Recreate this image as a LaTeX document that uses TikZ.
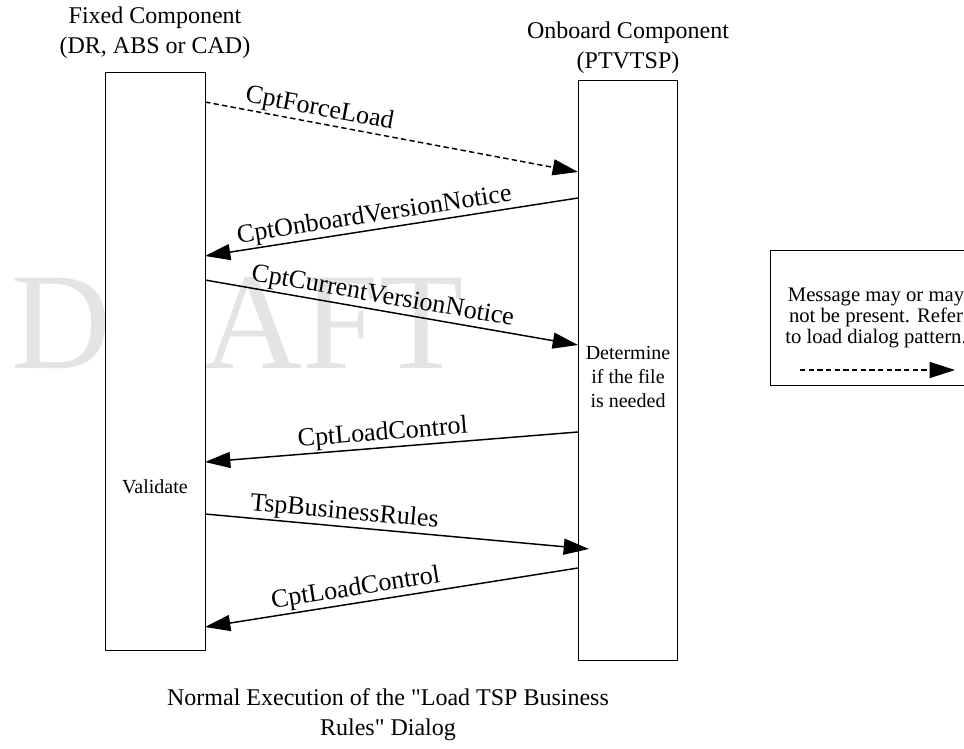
\documentclass[tikz,border=0pt]{standalone}
\usepackage{fontspec}
\setmainfont{Liberation Serif}[Ligatures=TeXOff]
\usetikzlibrary{arrows.meta,calc}
\definecolor{wmgray}{RGB}{228,228,228}
\begin{document}
\begin{tikzpicture}[x=0.75pt,y=-0.75pt,
  lifeline/.style={draw, line width=1.1pt, fill=white, anchor=north west, inner sep=0pt},
  msg/.style={line width=1.1pt, -{Triangle[length=19pt,width=12pt]}},
  lbl/.style={sloped, above, inner sep=1pt, font=\fontsize{19.5pt}{22pt}\selectfont},
  hdr/.style={align=center, inner sep=0pt, font=\fontsize{18pt}{22.5pt}\selectfont},
  boxtext/.style={align=center, inner sep=0pt, font=\fontsize{15pt}{18pt}\selectfont},
  legtext/.style={align=center, inner sep=0pt, font=\fontsize{15.5pt}{16pt}\selectfont}]
\path[use as bounding box] (0,0) rectangle (964,749);
\clip (0,0) rectangle (964,749);
% watermark
\node[anchor=base west, inner sep=0pt, text=wmgray, font=\fontsize{103.5pt}{110pt}\selectfont] (wm) at (11,368) {DRAFT};
% lifelines
\node[lifeline, minimum width=75pt, minimum height=433.5pt] (L) at (105,72) {};
\node[lifeline, minimum width=74.25pt, minimum height=435pt] (R) at (578,80) {};
% headers
\node[hdr] (hL) at (155,33) {Fixed Component\\(DR, ABS or CAD)};
\node[hdr] (hR) at (628,48) {Onboard Component\\(PTVTSP)};
% texts in boxes
\node[boxtext] (val) at (155,487) {Validate};
\node[boxtext] (det) at (628,377) {Determine\\if the file\\is needed};
% message end points
\coordinate (m1s) at (205,102); \coordinate (m1e) at (578,172);
\coordinate (m2s) at (578,198); \coordinate (m2e) at (205,256);
\coordinate (m3s) at (205,280); \coordinate (m3e) at (578,345);
\coordinate (m4s) at (578,432); \coordinate (m4e) at (205,462);
\coordinate (m5s) at (205,514); \coordinate (m5e) at (589,549);
\coordinate (m6s) at (578,568); \coordinate (m6e) at (205,627);
\draw[msg, dash pattern=on 4pt off 2.5pt] (m1s) -- node[lbl, pos=0.30] {CptForceLoad} (m1e);
\draw[msg] (m2s) -- node[lbl, pos=0.54] {CptOnboardVersionNotice} (m2e);
\draw[msg] (m3s) -- node[lbl, pos=0.47] {CptCurrentVersionNotice} (m3e);
\draw[msg] (m4s) -- node[lbl, pos=0.52] {CptLoadControl} (m4e);
\draw[msg] (m5s) -- node[lbl, pos=0.36] {TspBusinessRules} (m5e);
\draw[msg] (m6s) -- node[lbl, pos=0.59] {CptLoadControl} (m6e);
% legend
\node[draw, line width=1.1pt, anchor=north west, minimum width=172pt, minimum height=101.25pt, inner sep=0pt] (leg) at (770,250) {};
\node[legtext] (legt) at (876,318) {Message may or may\\not be present. Refer\\to load dialog pattern.};
\coordinate (la) at (800,370); \coordinate (lb) at (955,370);
\draw[msg, dash pattern=on 4pt off 2.5pt] (la) -- (lb);
% caption
\node[hdr] (cap) at (388,715) {Normal Execution of the "Load TSP Business\\Rules" Dialog};
\end{tikzpicture}
\end{document}
